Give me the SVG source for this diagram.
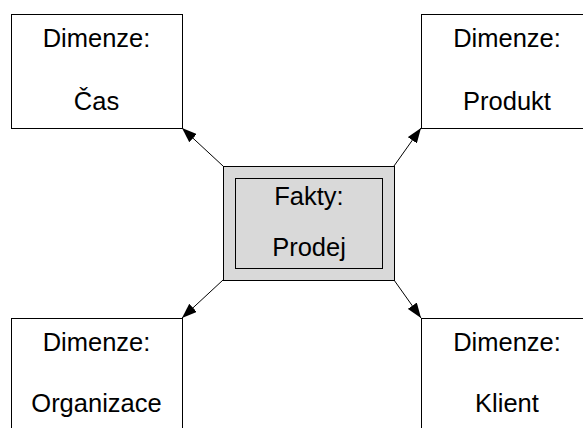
<svg xmlns="http://www.w3.org/2000/svg" width="583" height="428" viewBox="0 0 583 428">
  <style>
    .box { fill: #ffffff; stroke: #000000; stroke-width: 1; }
    .fact { fill: #d9d9d9; stroke: #000000; stroke-width: 1; }
    .lbl { font-family: "Liberation Sans", Arial, sans-serif; font-size: 25.5px; fill: #000000; text-anchor: middle; }
    .edge { stroke: #000000; stroke-width: 1; fill: none; marker-end: url(#arrow); }
  </style>
  <defs>
    <marker id="arrow" markerWidth="15" markerHeight="11" refX="15" refY="5.5" orient="auto" markerUnits="userSpaceOnUse">
      <path d="M0,0 L15,5.5 L0,11 Z" fill="#000000"/>
    </marker>
  </defs>
  <rect width="583" height="428" fill="#ffffff"/>

  <g id="connectors">
    <line class="edge" x1="223" y1="166" x2="182" y2="128"/>
    <line class="edge" x1="394" y1="166" x2="421" y2="128"/>
    <line class="edge" x1="223" y1="280" x2="182" y2="318"/>
    <line class="edge" x1="394" y1="280" x2="421" y2="318"/>
  </g>

  <g id="cas">
    <rect class="box" x="11.5" y="14.5" width="171" height="114"/>
    <text class="lbl" x="96.5" y="47">Dimenze:</text>
    <text class="lbl" x="96.5" y="110">Čas</text>
  </g>

  <g id="produkt">
    <rect class="box" x="421.5" y="14.5" width="171" height="114"/>
    <text class="lbl" x="507" y="47">Dimenze:</text>
    <text class="lbl" x="507" y="110">Produkt</text>
  </g>

  <g id="organizace">
    <rect class="box" x="11.5" y="318.5" width="171" height="114"/>
    <text class="lbl" x="96.5" y="351">Dimenze:</text>
    <text class="lbl" x="96.5" y="412">Organizace</text>
  </g>

  <g id="klient">
    <rect class="box" x="421.5" y="318.5" width="171" height="114"/>
    <text class="lbl" x="507" y="351">Dimenze:</text>
    <text class="lbl" x="507" y="412">Klient</text>
  </g>

  <g id="prodej">
    <rect class="fact" x="223.5" y="166.5" width="171" height="114"/>
    <rect class="fact" x="235.5" y="178.5" width="147" height="90"/>
    <text class="lbl" x="309" y="205">Fakty:</text>
    <text class="lbl" x="309" y="256">Prodej</text>
  </g>
</svg>
